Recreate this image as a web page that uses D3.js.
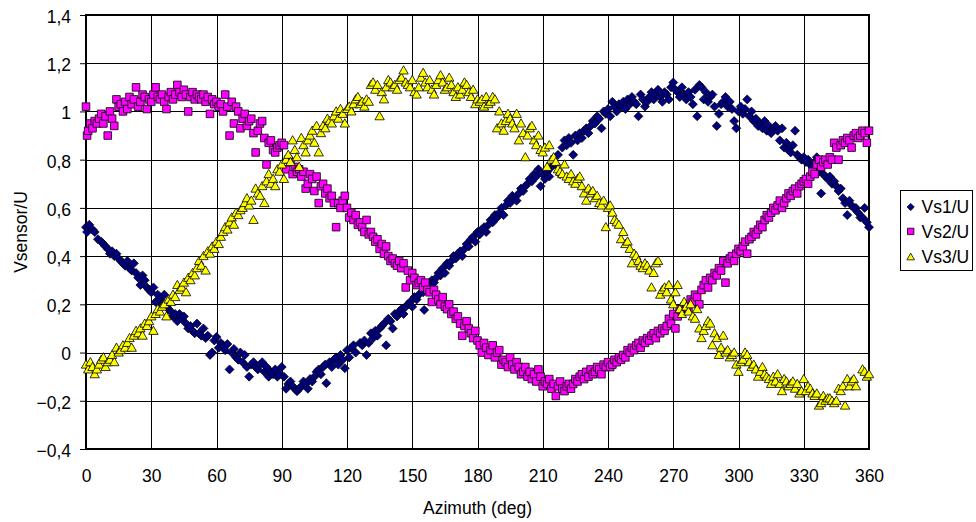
<!DOCTYPE html>
<html><head><meta charset="utf-8">
<script src="https://cdn.jsdelivr.net/npm/d3@7/dist/d3.min.js"></script>
<style>
html,body{margin:0;padding:0;background:#fff;}
svg{display:block;font-family:"Liberation Sans",Arial,sans-serif;}
</style></head>
<body>
<svg id="chart" width="976" height="522"></svg>
<script>
const xTicks = [0,30,60,90,120,150,180,210,240,270,300,330,360];
const yTicks = [-0.4,-0.2,0,0.2,0.4,0.6,0.8,1.0,1.2,1.4];
const seriesNames = ["Vs1/U","Vs2/U","Vs3/U"];
const xTitle = "Azimuth (deg)";
const yTitle = "Vsensor/U";

const vs1 = [[0,0.52],[0.5,0.50],[1.5,0.53],[3,0.51],[4,0.50],[5.5,0.47],[7,0.46],[8,0.45],[9,0.44],[10,0.43],[11,0.41],[12,0.42],[13,0.40],[14,0.41],[15,0.39],[16,0.38],[17,0.37],[18,0.36],[19,0.38],[20,0.35],[21,0.34],[22,0.37],[23,0.33],[24,0.31],[25,0.28],[26,0.32],[27,0.30],[28,0.27],[29,0.26],[30,0.25],[31,0.27],[32,0.21],[33,0.24],[34,0.22],[35,0.20],[36,0.24],[37,0.19],[38,0.18],[39,0.17],[40,0.15],[41,0.16],[42,0.13],[43,0.16],[44,0.14],[45,0.15],[46,0.12],[47,0.10],[48,0.11],[49,0.09],[50,0.08],[51,0.12],[52,0.08],[53,0.07],[54,0.10],[55,0.06],[56,0.07],[57,-0.01],[58,0.0],[59,0.05],[60,0.065],[61,0.02],[62,0.04],[63,0.03],[64,0.01],[65,0.035],[66,-0.07],[67,0.0],[68,0.015],[69,-0.02],[70,-0.03],[71,0.0],[72,-0.04],[73,-0.01],[74,-0.06],[75,-0.10],[76,-0.05],[77,-0.04],[78,-0.06],[79,-0.07],[80,-0.05],[81,-0.04],[82,-0.08],[83,-0.06],[84,-0.10],[85,-0.08],[86,-0.09],[87,-0.07],[88,-0.10],[89,-0.09],[90,-0.06],[91,-0.10],[92,-0.15],[93,-0.13],[94,-0.12],[95,-0.14],[96,-0.15],[97,-0.16],[98,-0.15],[99,-0.14],[100,-0.12],[101,-0.13],[102,-0.15],[103,-0.11],[104,-0.12],[105,-0.10],[106,-0.08],[107,-0.07],[108,-0.09],[109,-0.06],[110,-0.05],[110.5,-0.127],[112,-0.04],[113,-0.06],[114,-0.03],[115,-0.02],[116,-0.05],[117,-0.01],[118,-0.03],[119,-0.065],[120,0.01],[121,-0.02],[122,0.02],[123,0.03],[124,0.0],[126,0.04],[127,0.03],[128,0.05],[129,-0.01],[130,0.04],[131,0.08],[132,0.06],[133,0.09],[134,0.07],[135,0.10],[136,0.11],[137,0.12],[138,0.03],[139,0.14],[140,0.13],[141,0.10],[142,0.16],[143,0.15],[144,0.17],[145,0.18],[146,0.16],[147,0.19],[148,0.20],[149,0.21],[150,0.19],[151,0.23],[152,0.22],[153,0.24],[155.5,0.177],[155,0.25],[156,0.27],[157,0.28],[158,0.26],[159,0.30],[160,0.29],[161,0.31],[162,0.33],[163,0.32],[164,0.35],[165,0.33],[166,0.37],[167,0.36],[168,0.38],[169,0.40],[170,0.39],[171,0.41],[172,0.42],[173,0.40],[174,0.43],[175,0.45],[176,0.44],[177,0.47],[178,0.48],[179,0.46],[180,0.50],[181,0.49],[182,0.51],[183,0.52],[184,0.50],[185,0.53],[186,0.55],[187,0.54],[188,0.57],[189,0.56],[190,0.58],[191,0.60],[192,0.57],[193,0.61],[194,0.63],[195,0.62],[196,0.65],[197,0.64],[198,0.63],[199,0.66],[200,0.68],[201,0.67],[202,0.69],[203,0.70],[204,0.72],[205,0.71],[206,0.74],[207,0.73],[208,0.76],[209,0.69],[210,0.74],[211,0.72],[212,0.75],[213,0.73],[214,0.77],[215,0.79],[216,0.78],[217,0.82],[218,0.74],[219,0.85],[220,0.88],[221,0.86],[222,0.89],[223,0.87],[224,0.82],[225,0.90],[226,0.88],[227,0.91],[228,0.89],[229,0.92],[230,0.93],[231,0.91],[232,0.94],[233,0.96],[234,0.95],[235,0.98],[236,0.97],[237,0.93],[238,1.0],[239,0.99],[240,1.01],[241,0.98],[242,1.04],[243,1.02],[244,1.0],[245,1.03],[246,1.02],[247,1.04],[248,1.01],[249,1.05],[250,1.03],[251,1.06],[252,1.04],[253,1.03],[254,0.98],[255,1.07],[256,1.05],[257,1.02],[258,1.04],[259,1.06],[260,1.08],[261,1.05],[262,1.07],[263,1.09],[264,1.06],[265,1.04],[266,1.08],[267,1.07],[268,1.05],[269,1.10],[270,1.12],[271,1.09],[272,1.08],[273,1.06],[274,1.10],[275,1.07],[276,1.05],[277,1.08],[278,1.06],[279,1.03],[280,1.09],[281,0.98],[282,1.11],[283,1.10],[284,1.05],[285,1.08],[286,1.04],[287,1.06],[288,1.07],[289,1.02],[290,0.94],[291,0.99],[292,1.03],[293,1.04],[294,1.06],[295,1.02],[296,1.04],[297,1.01],[298,0.96],[299,0.93],[300,1.00],[301,1.02],[302,0.99],[303,1.01],[304,1.05],[305,0.98],[306,1.0],[307,0.96],[308,0.97],[309,0.94],[310,0.95],[311,0.93],[312,0.96],[313,0.92],[314,0.94],[315,0.91],[316,0.93],[317,0.94],[318,0.92],[319,0.88],[320,0.93],[321,0.85],[322,0.87],[323,0.84],[324,0.83],[325,0.86],[326,0.92],[327,0.82],[328,0.81],[329,0.80],[330,0.81],[331,0.79],[332,0.80],[333,0.78],[334,0.77],[335,0.79],[336,0.81],[337,0.75],[338,0.66],[339,0.74],[340,0.73],[341,0.72],[342,0.73],[343,0.70],[344,0.71],[345,0.69],[346,0.67],[347,0.68],[348,0.64],[349,0.62],[350,0.57],[351,0.63],[352,0.61],[353,0.60],[354,0.60],[355,0.58],[356,0.56],[357,0.56],[358,0.60],[359,0.54],[360,0.52]];

const vs2 = [[0,1.02],[0.5,0.90],[1,0.92],[2,0.95],[3,0.93],[4,0.96],[5,0.95],[6,0.97],[7,0.99],[8,0.95],[9,0.98],[10,0.90],[11,1.0],[12,0.97],[13,0.94],[14,1.05],[15,1.02],[16,1.03],[17,1.0],[18,1.04],[19,1.01],[20,1.06],[21,1.03],[22,1.05],[23,1.10],[24,1.02],[25,1.04],[26,1.07],[27,1.06],[28,1.01],[29,1.05],[30,1.04],[31,1.07],[32,1.10],[33,1.06],[34,1.05],[35,1.07],[36,1.04],[37,1.01],[38,1.06],[39,1.08],[40,1.05],[41,1.07],[42,1.11],[43,1.08],[44,1.06],[45,1.09],[46,1.07],[47,1.0],[48,1.06],[49,1.08],[50,1.05],[51,1.07],[52,1.06],[53,1.05],[54,1.07],[55,1.04],[56,1.06],[57,0.99],[58,1.05],[59,1.03],[60,1.04],[61,1.02],[62,1.03],[63,1.0],[64,1.07],[65,1.02],[66,0.90],[67,1.04],[68,0.95],[69,1.02],[70,1.0],[71,0.93],[72,0.97],[73,0.99],[74,0.94],[75,0.96],[76,0.97],[77,0.91],[78,0.83],[79,0.92],[80,0.95],[81,0.96],[82,0.89],[83,0.78],[84,0.87],[85,0.88],[86,0.84],[87,0.83],[88,0.85],[89,0.86],[90,0.87],[91,0.86],[92,0.76],[93,0.80],[94,0.79],[95,0.74],[96,0.77],[97,0.75],[98,0.76],[99,0.73],[100,0.75],[101,0.68],[102,0.70],[103,0.74],[104,0.72],[105,0.67],[106,0.73],[107,0.62],[108,0.69],[109,0.70],[110,0.66],[111,0.68],[112,0.64],[113,0.65],[114,0.62],[115,0.52],[116,0.62],[117,0.60],[118,0.63],[119,0.65],[120,0.60],[121,0.56],[122,0.58],[123,0.55],[124,0.57],[125,0.53],[126,0.54],[127,0.52],[128,0.50],[129,0.55],[130,0.49],[131,0.50],[132,0.48],[133,0.46],[134,0.47],[135,0.43],[136,0.45],[137,0.41],[138,0.44],[139,0.40],[140,0.38],[141,0.39],[142,0.37],[143,0.36],[144,0.38],[145,0.35],[146,0.37],[147,0.27],[148,0.34],[149,0.30],[150,0.33],[151,0.31],[152,0.28],[153,0.29],[154,0.30],[155,0.27],[156,0.29],[157,0.26],[158,0.25],[159,0.21],[160,0.26],[161,0.24],[162,0.22],[163,0.20],[164,0.23],[165,0.19],[166,0.18],[167,0.20],[168,0.16],[169,0.17],[170,0.14],[171,0.15],[172,0.12],[173,0.07],[174,0.11],[175,0.13],[176,0.10],[177,0.08],[178,0.06],[179,0.09],[180,0.05],[181,0.03],[182,0.0],[183,0.04],[184,0.02],[185,-0.01],[186,0.01],[187,0.03],[188,-0.02],[189,0.0],[190,0.01],[191,-0.05],[192,-0.03],[193,-0.04],[194,-0.06],[195,-0.02],[196,-0.05],[197,-0.07],[198,-0.04],[199,-0.06],[200,-0.09],[201,-0.08],[202,-0.06],[203,-0.10],[204,-0.08],[205,-0.11],[206,-0.09],[207,-0.12],[208,-0.07],[209,-0.10],[210,-0.14],[211,-0.12],[212,-0.13],[213,-0.11],[214,-0.15],[215,-0.13],[216,-0.18],[217,-0.14],[218,-0.12],[219,-0.15],[220,-0.16],[221,-0.14],[222,-0.13],[223,-0.15],[224,-0.13],[225,-0.11],[226,-0.12],[227,-0.10],[228,-0.09],[229,-0.11],[230,-0.08],[231,-0.10],[232,-0.07],[233,-0.09],[234,-0.08],[235,-0.06],[236,-0.07],[237,-0.09],[238,-0.05],[239,-0.06],[240,-0.04],[241,-0.06],[242,-0.05],[243,-0.03],[244,-0.04],[245,-0.02],[246,-0.03],[247,-0.01],[248,-0.02],[249,0.01],[250,0.0],[251,0.02],[252,0.01],[253,0.03],[254,0.04],[255,0.02],[256,0.05],[257,0.04],[258,0.06],[259,0.05],[260,0.07],[261,0.08],[262,0.06],[263,0.09],[264,0.08],[265,0.10],[266,0.09],[267,0.11],[268,0.14],[269,0.12],[270,0.16],[271,0.10],[272,0.15],[273,0.18],[274,0.17],[275,0.19],[276,0.20],[277,0.18],[278,0.22],[279,0.21],[280,0.24],[281,0.23],[282,0.20],[283,0.26],[284,0.28],[285,0.30],[286,0.27],[287,0.31],[288,0.30],[289,0.33],[290,0.32],[291,0.35],[292,0.34],[293,0.38],[294,0.29],[295,0.37],[296,0.39],[297,0.40],[298,0.38],[299,0.41],[300,0.43],[301,0.42],[302,0.44],[303,0.46],[304,0.41],[305,0.47],[306,0.48],[307,0.50],[308,0.49],[309,0.51],[310,0.53],[311,0.52],[312,0.55],[313,0.57],[314,0.56],[315,0.58],[316,0.60],[317,0.59],[318,0.61],[319,0.63],[320,0.60],[321,0.62],[322,0.64],[323,0.66],[324,0.65],[325,0.67],[326,0.68],[327,0.66],[328,0.69],[329,0.70],[330,0.71],[331,0.72],[332,0.70],[333,0.73],[334,0.75],[335,0.74],[336,0.78],[337,0.80],[338,0.77],[339,0.79],[340,0.80],[341,0.78],[342,0.81],[343,0.80],[344,0.87],[345,0.85],[346,0.80],[347,0.86],[348,0.88],[349,0.87],[350,0.89],[351,0.88],[352,0.85],[353,0.90],[354,0.91],[355,0.89],[356,0.90],[357,0.92],[358,0.91],[359,0.87],[360,0.92]];

const vs3 = [[0,-0.05],[1,-0.07],[2,-0.04],[3,-0.06],[4,-0.09],[5,-0.07],[6,-0.05],[7,-0.03],[8,-0.02],[9,-0.06],[10,-0.04],[11,-0.03],[12,-0.01],[13,-0.04],[14,0.02],[15,0.0],[16,0.01],[17,0.03],[18,0.02],[19,0.04],[20,0.06],[21,0.02],[22,0.07],[23,0.09],[24,0.08],[25,0.10],[26,0.07],[27,0.12],[28,0.11],[29,0.13],[30,0.15],[31,0.09],[32,0.16],[33,0.18],[34,0.17],[35,0.19],[36,0.20],[37,0.15],[38,0.22],[39,0.21],[40,0.24],[41,0.23],[42,0.28],[43,0.26],[44,0.27],[45,0.29],[46,0.25],[47,0.31],[48,0.30],[49,0.33],[50,0.32],[51,0.35],[52,0.38],[53,0.36],[54,0.40],[55,0.34],[56,0.42],[57,0.41],[58,0.44],[59,0.43],[60,0.46],[61,0.45],[62,0.48],[63,0.50],[64,0.52],[65,0.51],[66,0.54],[67,0.56],[68,0.53],[69,0.58],[70,0.57],[71,0.59],[72,0.60],[73,0.62],[74,0.64],[75,0.61],[76,0.63],[77,0.55],[78,0.68],[79,0.66],[80,0.65],[81,0.69],[82,0.62],[83,0.71],[84,0.74],[85,0.70],[86,0.72],[87,0.69],[88,0.76],[89,0.75],[90,0.78],[91,0.72],[92,0.80],[93,0.82],[94,0.79],[95,0.88],[96,0.84],[97,0.81],[98,0.77],[99,0.89],[100,0.86],[101,0.83],[102,0.88],[103,0.90],[104,0.92],[105,0.87],[106,0.94],[107,0.83],[108,0.91],[109,0.94],[110,0.93],[111,0.97],[112,0.96],[113,0.95],[114,0.98],[115,1.0],[116,0.97],[117,1.01],[118,0.99],[119,0.95],[120,1.01],[121,1.02],[122,1.0],[123,1.03],[124,1.05],[125,1.06],[126,1.03],[127,1.04],[128,1.02],[129,1.05],[130,1.04],[131,1.11],[132,1.12],[133,1.09],[134,1.11],[135,0.98],[136,1.08],[137,1.05],[138,1.10],[139,1.13],[140,1.12],[141,1.10],[142,1.11],[143,1.09],[144,1.13],[145,1.14],[146,1.17],[147,1.12],[148,1.11],[149,1.10],[150,1.13],[151,1.08],[152,1.07],[153,1.10],[154,1.14],[155,1.16],[156,1.12],[157,1.10],[158,1.13],[159,1.09],[160,1.07],[161,1.11],[162,1.13],[163,1.15],[164,1.12],[165,1.09],[166,1.10],[167,1.14],[168,1.11],[169,1.08],[170,1.06],[171,1.10],[172,1.07],[173,1.09],[174,1.12],[175,1.11],[176,1.08],[177,1.06],[178,1.09],[179,1.03],[180,1.05],[181,1.04],[182,1.05],[183,1.02],[184,1.06],[185,1.03],[186,1.04],[187,1.06],[188,1.05],[189,0.93],[190,1.0],[191,0.95],[192,0.92],[193,0.96],[194,0.99],[195,0.97],[196,0.95],[197,0.93],[198,0.99],[199,0.88],[200,0.95],[201,0.91],[202,0.81],[203,0.90],[204,0.93],[205,0.94],[206,0.88],[207,0.86],[208,0.90],[209,0.84],[210,0.83],[211,0.85],[212,0.77],[213,0.86],[214,0.80],[215,0.81],[216,0.79],[217,0.76],[218,0.75],[219,0.74],[220,0.78],[221,0.73],[222,0.72],[223,0.74],[224,0.71],[225,0.70],[226,0.72],[227,0.73],[228,0.69],[229,0.66],[230,0.63],[231,0.68],[232,0.66],[233,0.67],[234,0.64],[235,0.65],[236,0.62],[237,0.61],[238,0.63],[239,0.52],[240,0.60],[241,0.61],[242,0.58],[243,0.55],[244,0.54],[245,0.53],[246,0.47],[247,0.50],[248,0.45],[249,0.46],[250,0.43],[251,0.37],[252,0.41],[253,0.40],[254,0.38],[255,0.36],[256,0.35],[257,0.37],[258,0.36],[259,0.34],[260,0.27],[261,0.33],[262,0.37],[263,0.38],[264,0.24],[265,0.26],[266,0.27],[267,0.25],[268,0.28],[269,0.22],[270,0.20],[271,0.25],[272,0.28],[273,0.18],[274,0.16],[275,0.21],[276,0.19],[277,0.17],[278,0.20],[279,0.15],[280,0.14],[281,0.18],[282,0.10],[283,0.06],[284,0.09],[285,0.11],[286,0.13],[287,0.12],[288,0.03],[289,0.08],[290,0.06],[291,-0.01],[292,0.02],[293,0.07],[294,0.0],[295,0.01],[296,-0.02],[297,-0.01],[298,0.0],[299,-0.05],[300,-0.08],[301,-0.04],[302,-0.03],[303,0.0],[304,-0.01],[305,-0.04],[306,-0.06],[307,-0.05],[308,-0.07],[309,-0.10],[310,-0.08],[311,-0.06],[312,-0.09],[313,-0.10],[314,-0.11],[315,-0.13],[316,-0.10],[317,-0.12],[318,-0.09],[319,-0.13],[320,-0.16],[321,-0.11],[322,-0.12],[323,-0.14],[324,-0.13],[325,-0.12],[326,-0.15],[327,-0.13],[328,-0.17],[329,-0.16],[330,-0.11],[331,-0.16],[332,-0.14],[333,-0.15],[334,-0.17],[335,-0.18],[336,-0.17],[337,-0.22],[338,-0.21],[339,-0.18],[340,-0.20],[341,-0.19],[342,-0.19],[343,-0.20],[344,-0.21],[345,-0.20],[346,-0.15],[347,-0.16],[348,-0.14],[349,-0.22],[350,-0.11],[351,-0.14],[352,-0.12],[353,-0.11],[354,-0.14],[357,-0.07],[358,-0.08],[359,-0.10],[360,-0.09]];

const FONT = "Liberation Sans, Arial, sans-serif";
const FS = 17.5;
const svg = d3.select("#chart");
const M = {left:86, top:15, right:869, bottom:449};
const x = d3.scaleLinear().domain([0,360]).range([M.left, M.right]);
const y = d3.scaleLinear().domain([-0.4,1.4]).range([M.bottom, M.top]);
const yFmt = v => (Math.abs(v) < 1e-9) ? "0" : (Math.abs(v-1) < 1e-9 ? "1" : d3.format(".1f")(v).replace(".",","));

// grid
const g = svg.append("g");
g.selectAll("line.gx").data(xTicks.slice(1,-1)).join("line").attr("class","gx")
  .attr("x1", d => Math.round(x(d))+0.5).attr("x2", d => Math.round(x(d))+0.5)
  .attr("y1", M.top).attr("y2", M.bottom).attr("stroke","#000").attr("stroke-width",1);
g.selectAll("line.gy").data(yTicks.slice(1,-1)).join("line").attr("class","gy")
  .attr("y1", d => Math.round(y(d))+0.5).attr("y2", d => Math.round(y(d))+0.5)
  .attr("x1", M.left).attr("x2", M.right).attr("stroke","#000").attr("stroke-width",1);

// axes
const yAxis = d3.axisLeft(y).tickValues(yTicks).tickSize(6).tickPadding(9).tickFormat(yFmt);
const ya = svg.append("g").attr("transform",`translate(${M.left},0)`).call(yAxis);
ya.select(".domain").remove();
ya.selectAll("text").attr("font-size",FS).attr("font-family",FONT).attr("fill","#000").attr("dy","0.42em");
const xAxis = d3.axisBottom(x).tickValues(xTicks).tickSize(0).tickPadding(21);
const xa = svg.append("g").attr("transform",`translate(0,${M.bottom})`).call(xAxis);
xa.select(".domain").remove();
xa.selectAll("text").attr("font-size",FS).attr("font-family",FONT).attr("fill","#000");

// plot border
svg.append("rect").attr("x",M.left).attr("y",M.top).attr("width",M.right-M.left).attr("height",M.bottom-M.top)
  .attr("fill","none").attr("stroke","#000").attr("stroke-width",2);

// markers
const diamond = (cx,cy,r) => `M${cx},${cy-r}L${cx+r},${cy}L${cx},${cy+r}L${cx-r},${cy}Z`;
const square = (cx,cy,r) => `M${cx-r},${cy-r}H${cx+r}V${cy+r}H${cx-r}Z`;
const tri = (cx,cy,r) => `M${cx},${cy-r}L${cx+r},${cy+r*0.75}L${cx-r},${cy+r*0.75}Z`;

svg.append("g").selectAll("path").data(vs1).join("path")
  .attr("d", d => diamond(x(d[0]), y(d[1]), 4.5))
  .attr("fill","#000080").attr("stroke","#000").attr("stroke-width",0.7);
svg.append("g").selectAll("path").data(vs2).join("path")
  .attr("d", d => square(x(d[0]), y(d[1]), 3.8))
  .attr("fill","#FF00FF").attr("stroke","#000").attr("stroke-width",0.8);
svg.append("g").selectAll("path").data(vs3).join("path")
  .attr("d", d => tri(x(d[0]), y(d[1]), 4.7))
  .attr("fill","#FFFF00").attr("stroke","#000").attr("stroke-width",0.8);

// titles
svg.append("text").attr("x",(M.left+M.right)/2).attr("y",514).attr("text-anchor","middle")
  .attr("font-size",FS).attr("font-family",FONT).text(xTitle);
svg.append("text").attr("transform",`translate(27,${(M.top+M.bottom)/2}) rotate(-90)`).attr("text-anchor","middle")
  .attr("font-size",FS).attr("font-family",FONT).text(yTitle);

// legend
const lg = svg.append("g");
lg.append("rect").attr("x",900.5).attr("y",190.5).attr("width",72).attr("height",80).attr("fill","#fff").attr("stroke","#000").attr("stroke-width",1);
const lBase = [213.3,237.7,263.3];
const lshapes = [ (cx,cy)=>diamond(cx,cy,3.6), (cx,cy)=>square(cx,cy,3.2), (cx,cy)=>tri(cx,cy,3.8) ];
const lfill = ["#000080","#FF00FF","#FFFF00"];
seriesNames.forEach((n,i)=>{
  lg.append("path").attr("d", lshapes[i](910.7, lBase[i]-6.3)).attr("fill",lfill[i]).attr("stroke","#000").attr("stroke-width",0.8);
  lg.append("text").attr("x",921.5).attr("y",lBase[i]).attr("font-size",FS).attr("font-family",FONT).text(n);
});
</script>
</body></html>
